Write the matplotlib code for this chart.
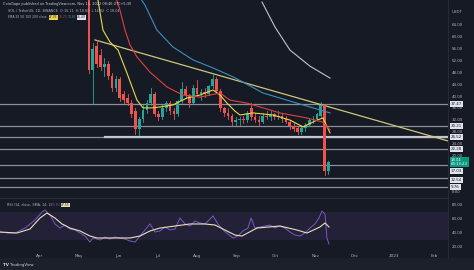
import matplotlib
matplotlib.use("Agg")
import matplotlib.pyplot as plt
import matplotlib.transforms as mtransforms

# SOL/USDT candles (3-day bars), day 0 = Apr 1 2022
days = [38, 41, 44, 47, 50, 53, 56, 59, 62, 65, 68, 71, 74, 77, 80, 83, 86, 89, 92, 95,
        98, 101, 104, 107, 110, 113, 116, 119, 122, 125, 128, 131, 134, 137, 140, 143,
        146, 149, 152, 155, 158, 161, 164, 167, 170, 173, 176, 179, 182, 185, 188, 191,
        194, 197, 200, 203, 206, 209, 212, 215, 218, 221, 224]
opens = [75, 49, 57, 54, 50, 51, 47, 43, 46, 41, 39.5, 38, 35, 29, 32.5, 35.5, 38, 41, 34, 33,
         36, 38, 35, 34, 38.5, 42.5, 40.5, 38, 43, 41, 41.5, 41, 43.5, 46, 42, 36,
         34.5, 33.5, 31.5, 32, 32.5, 32, 36, 33, 32, 31.5, 33.5, 33, 34, 33, 33.5, 32.5,
         31.5, 30, 29.5, 28, 29.5, 30.5, 32, 32.5, 33.5, 37, 15]
highs = [77, 58, 59, 56, 53, 52, 48, 47, 46.5, 42, 41, 39, 36, 33, 37, 39, 43, 41.5, 35, 37,
         38.5, 38.5, 36, 39, 45, 43.5, 41, 44, 45.5, 42.5, 43, 44, 47.5, 46.5, 42.5, 36.5,
         36, 34, 33, 33, 33.5, 35, 38, 34.5, 33.5, 34.5, 35, 35, 34.5, 35, 34, 33.5,
         32, 31, 30, 30.5, 31, 32.5, 33.5, 34.5, 38.2, 37.5, 18.5]
lows = [48, 37.5, 50, 49, 47, 46, 42, 42, 38.5, 38, 37, 33, 27.5, 27, 31.5, 34.5, 37, 33.5, 32, 32.5,
        35, 34, 32.5, 33.5, 38, 39.5, 36.5, 37.5, 40.5, 39, 40, 40.5, 43, 41.5, 35, 33.5,
        32.5, 30.5, 30.5, 30.5, 31, 31.5, 32, 31.5, 30.5, 31, 32.5, 32, 32.5, 32.5, 31.5, 31,
        29, 28.5, 27.3, 27.5, 28.5, 30, 31, 32, 33, 13.6, 14]
closes = [49, 56, 51, 50, 51, 47, 43, 46, 39.5, 39, 38, 34, 29, 32.5, 35.5, 38, 41, 34, 33, 36,
          38, 35, 34, 38.5, 42.5, 40.5, 38, 43, 41, 41.5, 41, 43.5, 46, 42, 36, 34.5,
          33.5, 31.5, 32, 32.5, 32, 34.5, 33, 32, 31.5, 33.5, 33, 34, 33, 33.5, 32.5, 31.5,
          30, 29, 28, 29.5, 30.5, 32, 32.5, 34, 37, 15, 18]

# EMA lines
ema20_days = [42.7, 45.0, 48.9, 54.3, 60.6, 67.5, 75.3, 80.0, 87.0, 93.2, 103.3, 114.1, 124.2,
              134.3, 139.8, 145.2, 151.4, 155.3, 165.4, 180.9, 194.1, 204.2, 215.1, 219.7, 225.2]
ema20_vals = [75.7, 72.4, 62.3, 58.3, 55.6, 47.9, 38.8, 36.2, 36.2, 36.5, 37.2, 39.5, 40.5,
              42.2, 40.5, 37.8, 35.1, 33.8, 34.5, 33.8, 32.1, 29.8, 32.1, 32.8, 27.8]
ema50_days = [58.2, 62.1, 66.0, 69.9, 75.3, 85.4, 98.6, 111.0, 124.2, 139.8, 147.5, 160.7,
              186.3, 207.3, 219.7, 225.2]
ema50_vals = [74.1, 69.0, 62.3, 57.3, 53.3, 48.2, 43.2, 40.5, 39.8, 41.2, 38.8, 37.8,
              34.5, 32.8, 31.4, 28.8]
ema100_days = [73.8, 81.5, 90.8, 103.3, 118.8, 134.3, 151.4, 173.1, 199.5, 217.4, 225.2]
ema100_vals = [75.7, 70.7, 62.3, 56.6, 52.3, 49.6, 46.3, 41.2, 37.8, 35.5, 34.5]
ema200_days = [172.4, 182.5, 194.1, 209.6, 225.2]
ema200_vals = [71.7, 63.3, 55.6, 50.2, 46.2]

trend_days = [42.7, 316.8]
trend_vals = [59.0, 25.1]

levels = [37.47, 30.21, 26.52, 22.28, 17.03, 12.54, 9.76]
level_labels = ["37.47", "30.21", "26.52", "22.28", "17.03", "12.54", "9.76"]
last_price = "18.04"
countdown = "09:13:23"

price_ticks = [64, 60, 56, 52, 48, 44, 40, 36, 32, 28, 24, 20, 8]

# RSI (14) and its SMA
rsi_days = [-31.1, -24.8, -19.4, -11.6, -3.9, 1.6, 3.9, 7.8, 11.6, 15.5, 19.4, 23.3, 27.2, 31.1,
            34.9, 38.8, 41.1, 44.3, 46.6, 50.5, 54.3, 58.2, 62.1, 66.0, 69.9, 73.8, 77.6, 81.5,
            85.4, 89.3, 93.2, 97.0, 100.9, 104.8, 108.7, 112.6, 116.5, 120.3, 124.2, 128.1,
            132.0, 134.3, 138.2, 142.1, 145.9, 149.8, 153.7, 157.6, 161.5, 163.9, 166.9, 170.8,
            174.7, 178.6, 182.5, 186.3, 190.2, 194.1, 198.0, 201.9, 205.7, 209.6, 213.5, 216.6,
            218.9, 221.3, 222.8, 224.4]
rsi_vals = [41.4, 40, 40, 47.1, 58.6, 70, 72.9, 65.7, 52.9, 47.1, 51.4, 45.7, 44.3, 40,
            35.7, 27.1, 32.9, 31.4, 30, 34.3, 31.4, 34.3, 32.9, 31.4, 28.6, 27.1, 35.7, 44.3,
            52.9, 41.4, 42.9, 48.6, 44.3, 45.7, 61.4, 52.9, 50, 57.1, 54.3, 52.9,
            60, 64.3, 52.9, 44.3, 38.6, 32.9, 35.7, 42.9, 47.1, 61.4, 47.1, 48.6,
            50, 51.4, 47.1, 50, 47.1, 41.4, 37.1, 35.7, 40, 47.1, 52.9, 61.4,
            71.4, 67.1, 32.9, 24.3]
rsi_ma_days = [-31.1, -17.9, -7.8, 0, 5.4, 11.6, 17.1, 23.3, 31.1, 38.8, 44.3, 54.3, 69.9,
               77.6, 85.4, 93.2, 104.8, 116.5, 128.1, 135.9, 143.6, 151.4, 156.8, 168.5,
               186.3, 199.5, 207.3, 217.4, 221.3, 224.4]
rsi_ma_vals = [41.4, 40, 45.7, 61.4, 68.6, 61.4, 52.9, 47.1, 42.9, 35.7, 32.9, 32.9, 32.9,
               35.7, 42.9, 47.1, 50, 52.9, 52.9, 51.4, 44.3, 37.1, 35.7, 47.1,
               50, 44.3, 40, 48.6, 54.3, 48.6]
rsi_ticks = [80, 60, 40, 20]

month_days = [0, 30, 61, 91, 122, 153, 183, 214, 244, 275, 306]
month_labels = ["Apr", "May", "Jun", "Jul", "Aug", "Sep", "Oct", "Nov", "Dec", "2023", "Feb"]

BG = "#161a25"
TXT = "#b2b5be"
UP = "#26a69a"
DOWN = "#ef5350"
W, H = 474, 270

fig = plt.figure(figsize=(W / 100, H / 100), dpi=100)
fig.patch.set_facecolor(BG)


def px_axes(x0, y0, x1, y1):
    return fig.add_axes([x0 / W, 1 - y1 / H, (x1 - x0) / W, (y1 - y0) / H])


def ptext(x, y, s, **kw):
    kw.setdefault("color", TXT)
    kw.setdefault("fontsize", 2.6)
    kw.setdefault("va", "center")
    return fig.text(x / W, 1 - y / H, s, **kw)


ax = px_axes(0, 0, 448, 198)
rax = px_axes(0, 198, 448, 251)
for a in (ax, rax):
    a.set_facecolor(BG)
    a.set_xlim(-31.06, 316.8)
    for s in a.spines.values():
        s.set_visible(False)
    a.tick_params(length=0)
    a.set_yticks([])
    a.set_xticks([])
ax.set_ylim(5.95, 72.4)
rax.set_ylim(14.3, 90)

# horizontal support / resistance levels
for lv in levels:
    ax.axhline(lv, color="#8c8f98", lw=0.9, zorder=1)
ax.plot([50.5, 316.8], [26.52, 26.52], color="#c3c6ce", lw=1.6, zorder=1)

# trendline
ax.plot(trend_days, trend_vals, color="#cfc57a", lw=0.9, zorder=2)

# candles
for d, o, h, l, c in zip(days, opens, highs, lows, closes):
    col = UP if c >= o else DOWN
    ax.plot([d, d], [l, h], color=col, lw=0.6, zorder=3)
    ax.bar(d, max(abs(c - o), 0.2), bottom=min(o, c), width=2.1, color=col, lw=0, zorder=3)

# EMAs
ax.plot(ema20_days, ema20_vals, color="#e8d84a", lw=0.8, zorder=4)
ax.plot(ema50_days, ema50_vals, color="#e0403f", lw=0.8, zorder=4)
ax.plot(ema100_days, ema100_vals, color="#3a8fc0", lw=0.8, zorder=4)
ax.plot(ema200_days, ema200_vals, color="#c0c3ca", lw=0.8, zorder=4)

# price scale
tr = mtransforms.blended_transform_factory(fig.transFigure, ax.transData)
for t in price_ticks:
    ax.text(452 / W, t, "%.2f" % t, transform=tr, color=TXT, fontsize=2.9, va="center",
            clip_on=False)
ax.text(452 / W, 68.3, "USDT", transform=tr, color=TXT, fontsize=2.9, va="center",
        clip_on=False)
label_y = [37.47, 30.21, 26.52, 22.28, 15.0, 12.0, 9.76]
for ly, s in zip(label_y, level_labels):
    ax.text(451 / W, ly, s, transform=tr, color="#131722", fontsize=2.9, va="center",
            clip_on=False, bbox=dict(boxstyle="square,pad=0.25", fc="#e0e3eb", ec="none"))
ax.text(451 / W, 18.0, last_price + "\n" + countdown, transform=tr, color="white",
        fontsize=2.7, va="center", linespacing=1.1, clip_on=False,
        bbox=dict(boxstyle="square,pad=0.3", fc="#089981", ec="none"))

# RSI pane
rax.axhspan(30, 70, color="#7e57c2", alpha=0.12, lw=0)
rax.plot(rsi_days, rsi_vals, color="#7e57c2", lw=0.7)
rax.plot(rsi_ma_days, rsi_ma_vals, color="#e9e1b4", lw=0.8)
tr2 = mtransforms.blended_transform_factory(fig.transFigure, rax.transData)
for t in rsi_ticks:
    rax.text(452 / W, t, "%.2f" % t, transform=tr2, color=TXT, fontsize=2.9, va="center",
             clip_on=False)
rax.set_xticks(month_days)
rax.set_xticklabels(month_labels, color=TXT, fontsize=3.0)
rax.tick_params(axis="x", pad=2.5)

# frame lines
fig.add_artist(plt.Line2D([0, 448 / W], [1 - 198 / H, 1 - 198 / H], color="#2a2e39", lw=0.8))
fig.add_artist(plt.Line2D([448 / W, 448 / W], [1 - 258 / H, 1], color="#2a2e39", lw=0.6))
fig.add_artist(plt.Rectangle((0, 0), 1, 12 / H, color="#1c202b", transform=fig.transFigure,
                             zorder=-1))

# header texts
ptext(3, 3.5, "CoinGape published on TradingView.com, Nov 11, 2022 08:46 UTC+5:30",
      color="#d1d4dc", fontsize=2.5)
ptext(8, 11, "SOL / TetherUS, 1D, BINANCE  O 15.11  H 18.60  L 14.02  C 18.04", fontsize=2.4)
ptext(8, 17.5, "EMA 20 50 100 200 close", fontsize=2.2)
ptext(49, 17.5, "27.33", fontsize=2.2, color="#131722",
      bbox=dict(boxstyle="square,pad=0.15", fc="#e8d84a", ec="none"))
ptext(59, 17.5, "30.73", fontsize=2.2, color="#e0403f")
ptext(68, 17.5, "34.83", fontsize=2.2, color="#3a8fc0")
ptext(77, 17.5, "46.49", fontsize=2.2, color="#131722",
      bbox=dict(boxstyle="square,pad=0.15", fc="#e0e3eb", ec="none"))
ptext(7, 205, "RSI (14, close, SMA, 14, 2)", fontsize=2.4)
ptext(52, 205, "35.63", fontsize=2.2, color="#7e57c2")
ptext(61, 205, "47.55", fontsize=2.2, color="#131722",
      bbox=dict(boxstyle="square,pad=0.15", fc="#e9e1b4", ec="none"))
ptext(3, 265, "TV", fontsize=3.0, color="#d1d4dc", weight="bold")
ptext(10, 265, "TradingView", fontsize=2.8, color="#d1d4dc")

fig.savefig("out.png", dpi=100, facecolor=BG)
